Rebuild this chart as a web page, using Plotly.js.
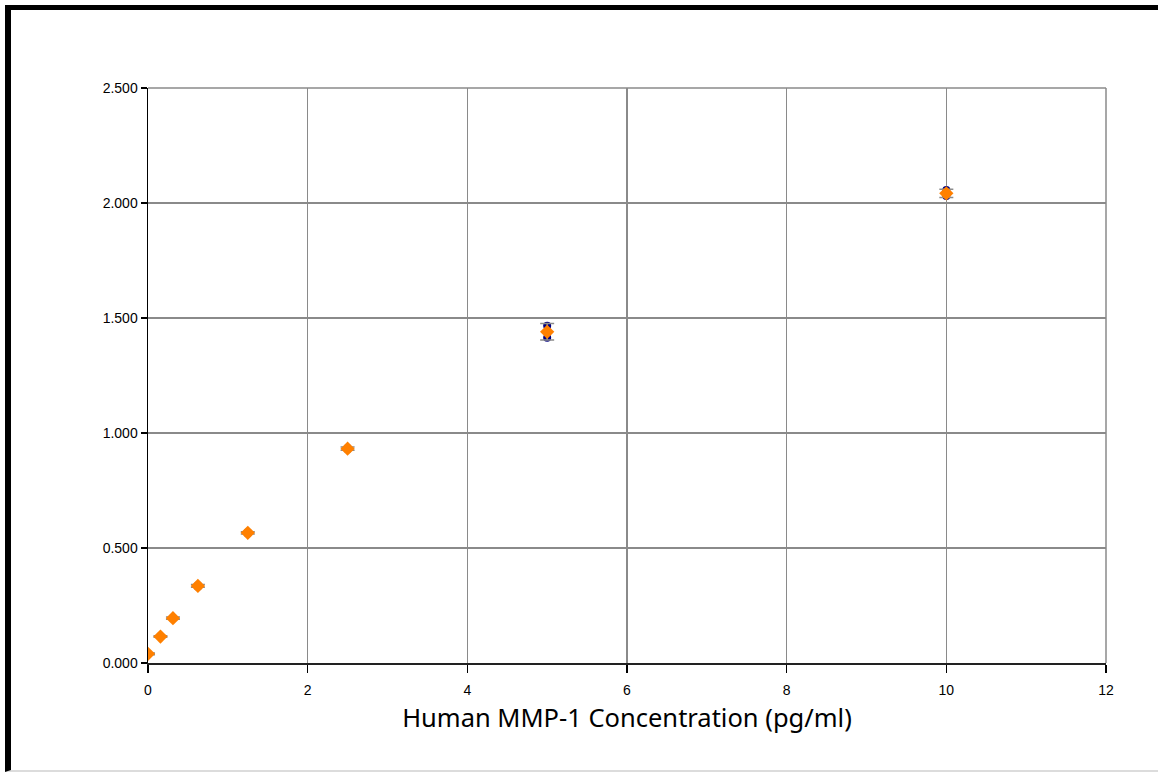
<!DOCTYPE html>
<html>
<head>
<meta charset="utf-8">
<script src="https://cdn.plot.ly/plotly-3.0.1.min.js"></script>
<style>
  html, body { margin: 0; padding: 0; background: #fff; }
  #chart { position: absolute; left: 0; top: 0; width: 1158px; height: 776px; }
  #frame { position: absolute; left: 5px; top: 5px; width: 1153px; height: 767px;
           border-left: 6px solid #000; border-top: 5px solid #000; border-bottom: 2px solid #dcdcdc;
           box-sizing: border-box; pointer-events: none; }
</style>
</head>
<body>
<div id="chart"></div>
<div id="frame"></div>
<script>
// Concentrations (pg/ml)
const concentration = [0, 0.156, 0.3125, 0.625, 1.25, 2.5, 5, 10];
// Replicate optical densities (blue circles)
const replicate1 = [0.041, 0.116, 0.197, 0.338, 0.569, 0.935, 1.466, 2.056];
const replicate2 = [0.039, 0.114, 0.193, 0.332, 0.563, 0.929, 1.414, 2.030];
// Mean OD (orange diamonds) and error bar half-lengths
const meanOD = [0.040, 0.115, 0.195, 0.335, 0.566, 0.932, 1.440, 2.042];
const errorOD = [0.004, 0.003, 0.005, 0.006, 0.005, 0.007, 0.036, 0.018];
// Axis ticks
const xTicks = [0, 2, 4, 6, 8, 10, 12];
const yTicks = [0, 0.5, 1.0, 1.5, 2.0, 2.5];
const xTitle = "Human MMP-1 Concentration (pg/ml)";

const traces = [
  {
    x: concentration, y: replicate1, type: "scatter", mode: "markers", name: "Replicate 1",
    marker: { symbol: "circle", size: 8, color: "#000080" }, hoverinfo: "x+y"
  },
  {
    x: concentration, y: replicate2, type: "scatter", mode: "markers", name: "Replicate 2",
    marker: { symbol: "circle", size: 8, color: "#000080" }, hoverinfo: "x+y"
  },
  {
    x: concentration, y: meanOD, type: "scatter", mode: "markers", name: "Mean",
    marker: { symbol: "diamond", size: 11, color: "#FF8000" },
    error_y: { type: "data", array: errorOD, visible: true, color: "#8c8c8c", thickness: 1.5, width: 7 },
    hoverinfo: "x+y"
  }
];

const layout = {
  width: 1158, height: 776,
  margin: { l: 148, r: 52, t: 88, b: 113 },
  paper_bgcolor: "#ffffff", plot_bgcolor: "#ffffff",
  showlegend: false,
  font: { family: "Liberation Sans, Arial, sans-serif", color: "#000", size: 14 },
  xaxis: {
    range: [0, 12], tickvals: xTicks, ticktext: xTicks.map(String),
    showgrid: true, gridcolor: "#8a8a8a", gridwidth: 1.5,
    showline: true, linecolor: "#222", linewidth: 1.5,
    ticks: "outside", ticklen: 8, tickcolor: "#000", tickwidth: 1.5,
    ticklabelstandoff: 6,
    zeroline: false,
    title: { text: xTitle, font: { family: "Noto Sans, Open Sans, sans-serif", size: 25.5, color: "#000" }, standoff: 12 },
    mirror: false
  },
  yaxis: {
    range: [0, 2.5], tickvals: yTicks, ticktext: yTicks.map(v => v.toFixed(3)),
    showgrid: true, gridcolor: "#8a8a8a", gridwidth: 1.5,
    showline: true, linecolor: "#000", linewidth: 1.5,
    ticks: "outside", ticklen: 6, tickcolor: "#000", tickwidth: 1.5,
    zeroline: false
  },
  shapes: [
    { type: "line", xref: "paper", yref: "paper", x0: 1, x1: 1, y0: 0, y1: 1, line: { color: "#8a8a8a", width: 1.5 } },
    { type: "line", xref: "paper", yref: "paper", x0: 0, x1: 1, y0: 1, y1: 1, line: { color: "#8a8a8a", width: 1.5 } }
  ]
};

Plotly.newPlot("chart", traces, layout, { displayModeBar: false, staticPlot: true });
</script>
</body>
</html>
